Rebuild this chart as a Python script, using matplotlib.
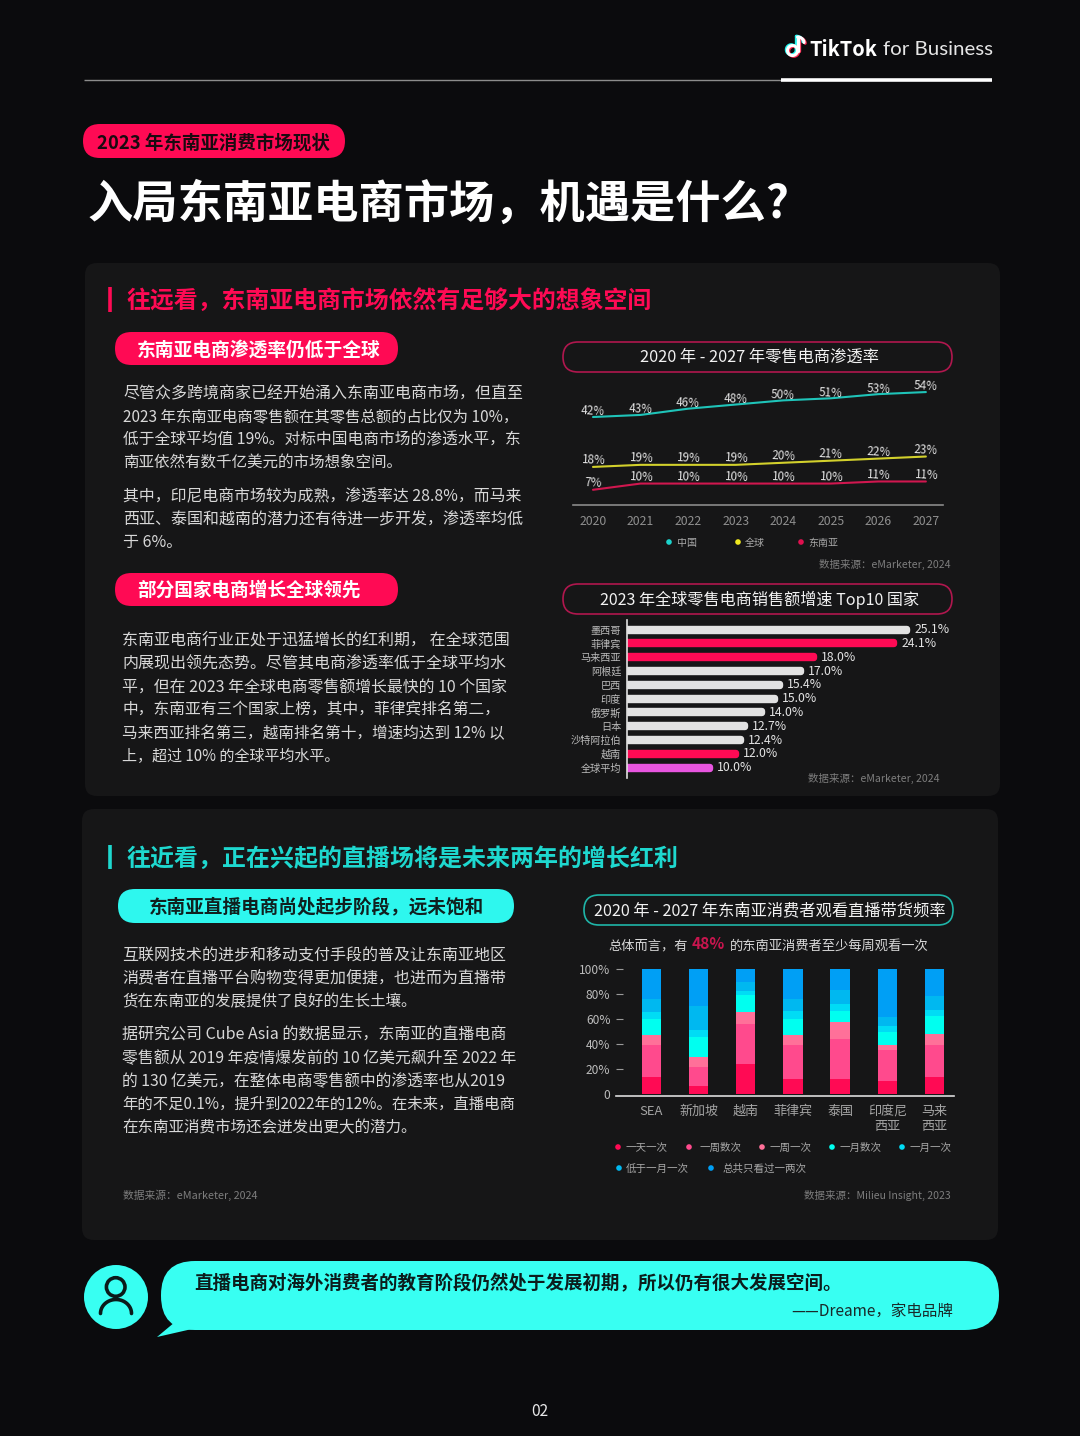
import numpy as np
import matplotlib
matplotlib.use("Agg")
import matplotlib.pyplot as plt
from matplotlib.patches import FancyBboxPatch, Polygon, Circle

plt.rcParams['font.family'] = ['Noto Sans CJK SC', 'DejaVu Sans']
plt.rcParams['axes.unicode_minus'] = False

# ---------- data ----------
years = [2020, 2021, 2022, 2023, 2024, 2025, 2026, 2027]
china = [42, 43, 46, 48, 50, 51, 53, 54]
world = [18, 19, 19, 19, 20, 21, 22, 23]
sea = [7, 10, 10, 10, 10, 10, 11, 11]

growth_countries = ['墨西哥', '菲律宾', '马来西亚', '阿根廷', '巴西', '印度', '俄罗斯', '日本', '沙特阿拉伯', '越南', '全球平均']
growth_values = [25.1, 24.1, 18.0, 17.0, 15.4, 15.0, 14.0, 12.7, 12.4, 12.0, 10.0]
growth_kind = ['o', 's', 's', 'o', 'o', 'o', 'o', 'o', 'o', 's', 'g']

live_markets = ['SEA', '新加坡', '越南', '菲律宾', '泰国', '印度尼\n西亚', '马来\n西亚']
live_labels = ['一天一次', '一周数次', '一周一次', '一月数次', '一月一次', '低于一月一次', '总共只看过一两次']
daily = [13, 6, 24, 12, 12, 10, 13]
weekly_some = [26, 15, 32, 27, 32, 25, 26]
weekly_once = [8, 8, 9, 8, 13, 4, 9]
monthly_some = [13, 16, 14, 13, 9, 10, 14]
monthly_once = [5, 6, 3, 6, 6, 5, 5]
below_monthly = [11, 19, 7, 10, 11, 7, 11]
once_twice = [24, 30, 11, 24, 17, 39, 22]
live_series = [daily, weekly_some, weekly_once, monthly_some, monthly_once, below_monthly, once_twice]

# ---------- colours ----------
BG = '#0b0b0d'
PANEL = '#161617'
RED = '#ff0a54'
CYAN = '#38fff2'
TEAL = '#1ed8cf'
live_colors = ['#ff0a54', '#ff4a8d', '#ff7099', '#00fff0', '#00dcf5', '#00b8f0', '#009ff5']

W, H = 1080, 1436
fig = plt.figure(figsize=(W / 100, H / 100), dpi=100, facecolor=BG)
bg = fig.add_axes([0, 0, 1, 1])
bg.set_xlim(0, W)
bg.set_ylim(H, 0)
bg.axis('off')
renderer = fig.canvas.get_renderer()


def px_axes(l, t, r, b):
    a = fig.add_axes([l / W, 1 - b / H, (r - l) / W, (b - t) / H], facecolor='none')
    return a


def T(x, y, s, px, color='#d8d8d8', weight='normal', ha='left', right=None, **kw):
    t = bg.text(x, y + 0.09 * px, s, fontsize=px * 0.72, color=color, fontweight=weight, ha=ha, va='center', **kw)
    if right is not None:
        w = t.get_window_extent(renderer).width
        t.set_fontsize(px * 0.72 * (right - x) / w)
    return t


def box(x0, y0, x1, y1, r, fc='none', ec='none', lw=0.0):
    p = FancyBboxPatch((x0, y0), x1 - x0, y1 - y0, boxstyle=f'round,pad=0,rounding_size={r}',
                       fc=fc, ec=ec, lw=lw)
    bg.add_patch(p)


def dot(x, y, c, r=2.8):
    bg.add_patch(Circle((x, y), r, fc=c, ec='none'))


# ---------- header ----------
bg.plot([84, 781], [80, 80], color='#8c8c8c', lw=1.0, solid_capstyle='butt')
bg.plot([781, 992], [80, 80], color='#ffffff', lw=2.6, solid_capstyle='butt')
for off, col in [((-1.2, -0.8), '#25f4ee'), ((1.2, 0.8), '#fe2c55'), ((0, 0), '#ffffff')]:
    t = np.linspace(-0.35, 1.55, 30) * np.pi
    bg.plot(792.5 + off[0] + 5 * np.cos(t), 50.5 + off[1] + 5 * np.sin(t),
            color=col, lw=2.2, solid_capstyle='round')
    bg.plot([797.5 + off[0], 797.5 + off[0]], [37 + off[1], 50.5 + off[1]], color=col, lw=2.4, solid_capstyle='round')
    s = np.linspace(0, 0.5, 12) * np.pi
    bg.plot(797.5 + off[0] + 6.5 * np.sin(s), 37 + off[1] + 5.5 * (1 - np.cos(s)), color=col, lw=2.2,
            solid_capstyle='round')
T(809, 47.5, 'TikTok', 20.5, '#ffffff', 'bold', right=877)
T(883, 47.5, 'for Business', 20.5, '#e6e6e6', right=993, family=['Lato', 'DejaVu Sans'])

box(83, 124, 345, 158, 17, fc=RED)
T(97, 141, '2023 年东南亚消费市场现状', 18.5, '#1a0a10', 'bold', right=330)
T(88, 200.5, '入局东南亚电商市场，机遇是什么?', 45, '#ffffff', 'bold', right=790)

# ---------- panels ----------
box(85, 263, 1000, 796, 12, fc=PANEL)
box(82, 809, 998, 1240, 12, fc=PANEL)

bg.plot([109.5, 109.5], [287, 312], color=RED, lw=2.6, solid_capstyle='butt')
T(126, 298.5, '往远看，东南亚电商市场依然有足够大的想象空间', 24, RED, 'bold', right=652)
box(115, 332, 398, 365, 16.5, fc=RED)
T(137, 348, '东南亚电商渗透率仍低于全球', 18.7, '#ffffff', 'bold', right=380)
for y, r, s in zip([392, 415, 438, 461, 495, 518], [522, 519, 520, 403, 521, 523], [
    '尽管众多跨境商家已经开始涌入东南亚电商市场，但直至',
    '2023 年东南亚电商零售额在其零售总额的占比仅为 10%，',
    '低于全球平均值 19%。对标中国电商市场的渗透水平，东',
    '南亚依然有数千亿美元的市场想象空间。',
    '其中，印尼电商市场较为成熟，渗透率达 28.8%，而马来',
    '西亚、泰国和越南的潜力还有待进一步开发，渗透率均低']):
    T(123, y, s, 16, right=r)
T(123, 541, '于 6%。', 16)
box(115, 573, 398, 606, 16.5, fc=RED)
T(137, 588, '部分国家电商增长全球领先', 18.7, '#ffffff', 'bold', right=360)
for y, r, s in zip([640, 663, 686, 709, 732, 755], [509, 505, 508, 499, 506, 340], [
    '东南亚电商行业正处于迅猛增长的红利期， 在全球范围',
    '内展现出领先态势。尽管其电商渗透率低于全球平均水',
    '平，但在 2023 年全球电商零售额增长最快的 10 个国家',
    '中，东南亚有三个国家上榜，其中，菲律宾排名第二，',
    '马来西亚排名第三，越南排名第十，增速均达到 12% 以',
    '上，超过 10% 的全球平均水平。']):
    T(122, y, s, 16, right=r)

bg.plot([109.5, 109.5], [845, 869], color=TEAL, lw=2.6, solid_capstyle='butt')
T(126, 856.5, '往近看，正在兴起的直播场将是未来两年的增长红利', 24, TEAL, 'bold', right=677)
box(118, 889, 514, 923, 17, fc='#2ef7ee')
T(149, 905, '东南亚直播电商尚处起步阶段，远未饱和', 18.6, '#10201f', 'bold', right=484)
for y, r, s in zip([954, 977, 1000, 1034, 1057, 1080, 1103, 1126], [505, 505, 417, 507, 516, 505, 515, 418], [
    '互联网技术的进步和移动支付手段的普及让东南亚地区',
    '消费者在直播平台购物变得更加便捷，也进而为直播带',
    '货在东南亚的发展提供了良好的生长土壤。',
    '据研究公司 Cube Asia 的数据显示，东南亚的直播电商',
    '零售额从 2019 年疫情爆发前的 10 亿美元飙升至 2022 年',
    '的 130 亿美元，在整体电商零售额中的渗透率也从2019',
    '年的不足0.1%，提升到2022年的12%。在未来，直播电商',
    '在东南亚消费市场还会迸发出更大的潜力。']):
    T(122, y, s, 16, right=r)
T(123, 1194, '数据来源：eMarketer, 2024', 10.5, '#7d7d7d', right=258)

# ---------- chart 1: line ----------
box(563, 342, 952, 372, 15, ec='#b0174e', lw=1.2)
T(759.5, 356, '2020 年 - 2027 年零售电商渗透率', 16.3, '#f2f2f2', ha='center')
a1 = px_axes(573, 380, 943, 505)
a1.set_xlim(2019.58, 2027.36)
a1.set_ylim(-0.31, 59.8)
for vals, col, off in [(china, '#1fc4b9', 5.5), (world, '#d2d02c', 6.5), (sea, '#d0174f', 6.5)]:
    a1.plot(years, vals, color=col, lw=1.5, solid_capstyle='round')
    for yr, v in zip(years, vals):
        a1.annotate(f'{v}%', (yr, v), xytext=(0, off * 0.72), textcoords='offset points', ha='center', va='center',
                    fontsize=8.4, color='#e4e4e4', rotation=-3)
for s in ['top', 'left', 'right']:
    a1.spines[s].set_visible(False)
a1.spines['bottom'].set_color('#8a8a8a')
a1.spines['bottom'].set_linewidth(1.2)
a1.set_yticks([])
a1.set_xticks(years)
a1.set_xticklabels([str(y) for y in years])
a1.tick_params(axis='x', length=0, pad=7.5, labelsize=8.8, labelcolor='#8f8f8f')
for x, lx, c, s in [(669, 677, '#1cd3cc', '中国'), (738, 745, '#f0e81f', '全球'), (801, 808, '#e0104f', '东南亚')]:
    dot(x, 542, c)
    T(lx, 542, s, 10, '#a8a8a8')
T(951, 563.5, '数据来源：eMarketer, 2024', 10.5, '#7d7d7d', ha='right')

# ---------- chart 2: bars ----------
box(563, 584, 952, 614, 15, ec='#b0174e', lw=1.2)
T(759.5, 598, '2023 年全球零售电商销售额增速 Top10 国家', 16.1, '#f2f2f2', ha='center')
a2 = px_axes(627.3, 620, 952, 778)
kind_color = {'o': '#e2e2e2', 's': RED, 'g': '#e855e0'}
ypos = np.arange(len(growth_values))
a2.barh(ypos, growth_values, height=0.145, color=[kind_color[k] for k in growth_kind],
        edgecolor=[kind_color[k] for k in growth_kind], linewidth=4.6, joinstyle='round')
for yv, v in zip(ypos, growth_values):
    a2.annotate(f'{v:.1f}%', (v, yv), xytext=(5, 0), textcoords='offset points', ha='left', va='center',
                fontsize=8.8, color='#e4e4e4')
a2.set_xlim(3.72, 28.5)
a2.set_ylim(10.75, -0.703)
for s in ['top', 'bottom', 'right']:
    a2.spines[s].set_visible(False)
a2.spines['left'].set_color('#e0e0e0')
a2.spines['left'].set_linewidth(1.2)
a2.set_xticks([])
a2.set_yticks(ypos)
a2.set_yticklabels(growth_countries)
a2.tick_params(axis='y', length=0, pad=4.5, labelsize=7.3, labelcolor='#bcbcbc')
T(940, 777.5, '数据来源：eMarketer, 2024', 10.5, '#7d7d7d', ha='right')

# ---------- chart 3: stacked ----------
box(584, 895, 953, 925, 15, ec='#1fb5a8', lw=1.2)
T(770, 909, '2020 年 - 2027 年东南亚消费者观看直播带货频率', 16.2, '#f2f2f2', ha='center')
T(608, 944.5, '总体而言，有', 13.2, '#d8d8d8')
T(692, 943, '48%', 15.5, '#c8154e', 'bold')
T(730, 944.5, '的东南亚消费者至少每周观看一次', 13.3, '#d8d8d8')
a3 = px_axes(616, 960, 954, 1095.7)
xs = np.arange(len(live_markets))
bottom = np.zeros(len(live_markets))
for vals, c, lab in zip(live_series, live_colors, live_labels):
    a3.bar(xs, vals, width=0.413, bottom=bottom, color=c, label=lab)
    bottom += np.array(vals)
a3.set_xlim(-0.748, 6.413)
a3.set_ylim(-1.76, 107)
for s in ['top', 'left', 'right']:
    a3.spines[s].set_visible(False)
a3.spines['bottom'].set_color('#dcdcdc')
a3.spines['bottom'].set_linewidth(1.2)
a3.set_xticks(xs)
a3.set_xticklabels(live_markets, linespacing=1.2)
a3.set_yticks([0, 20, 40, 60, 80, 100])
a3.set_yticklabels(['0', '20%', '40%', '60%', '80%', '100%'])
a3.tick_params(axis='x', length=0, pad=6.5, labelsize=9.4, labelcolor='#a4a4a4')
a3.tick_params(axis='y', direction='in', length=5, width=0.8, color='#9a9a9a', pad=4, labelsize=8.6, labelcolor='#bcbcbc')
a3.yaxis.get_major_ticks()[0].tick1line.set_visible(False)
for (dx, lx, dy), lab, c in zip(
        [(618, 626, 1147), (689, 699, 1147), (762, 770, 1147), (832, 840, 1147), (902, 910, 1147),
         (619, 626, 1168), (711, 723, 1168)], live_labels, live_colors):
    dot(dx, dy, c)
    T(lx, dy, lab, 10.5, '#a8a8a8')
T(951, 1194.5, '数据来源：Milieu Insight, 2023', 10.5, '#7d7d7d', ha='right')

# ---------- quote ----------
bg.add_patch(Circle((116, 1297), 32, fc=CYAN, ec='none'))
bg.add_patch(Circle((115.7, 1287), 9.3, fc='none', ec='#0b1a1a', lw=2.6))
t = np.linspace(0, np.pi, 40)
bg.plot(116 + 15.5 * np.cos(t), 1313.5 - 14 * np.sin(t), color='#0b1a1a', lw=2.6, solid_capstyle='round')
bg.add_patch(Polygon([(175, 1322), (157, 1337), (192, 1329)], closed=True, fc=CYAN, ec='none'))
box(161, 1261, 999, 1330, 34, fc=CYAN)
T(194, 1282.5, '直播电商对海外消费者的教育阶段仍然处于发展初期，所以仍有很大发展空间。', 18.7, '#0c1c1c', 'bold', right=838)
T(953, 1309.5, '——Dreame，家电品牌', 15.5, '#1a2a2a', ha='right')
T(540, 1410, '02', 15.5, '#e8e8e8', ha='center')

fig.savefig('out.png', dpi=100, facecolor=BG)
